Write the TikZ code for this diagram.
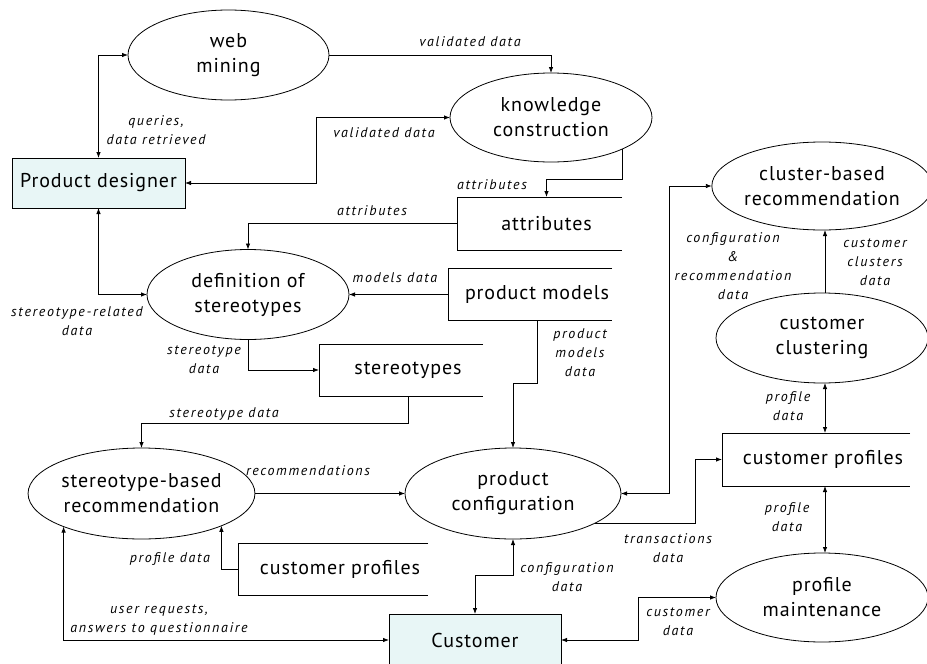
\documentclass[tikz,border=0pt]{standalone}
\usepackage{fontspec}
\setmainfont[LetterSpace=4.5]{PT Sans}
\newfontfamily\lblfont[LetterSpace=12]{PT Sans}
\usetikzlibrary{shapes.geometric,arrows.meta,calc}
\definecolor{extfill}{RGB}{232,246,246}
\newcommand\dfstore[1]{\draw ([xshift=-14pt]#1.north east) -- (#1.north west) -- (#1.south west) -- ([xshift=-14pt]#1.south east);}
\begin{document}
\begin{tikzpicture}[x=1pt,y=-1pt,line width=0.8pt,
  mainfont/.style={font=\fontsize{20}{25}\selectfont},
  proc/.style={ellipse,draw,inner sep=0pt,outer sep=0pt,align=center,mainfont},
  storenode/.style={rectangle,inner sep=0pt,outer sep=0pt,align=center,mainfont},
  extent/.style={rectangle,draw,fill=extfill,inner sep=0pt,outer sep=0pt,mainfont},
  lbl/.style={font=\lblfont\fontsize{14}{19}\selectfont\itshape,align=center,inner sep=0pt},
  flow/.style={-{Latex[length=6pt,width=4.5pt]}},
  dflow/.style={{Latex[length=6pt,width=4.5pt]}-{Latex[length=6pt,width=4.5pt]}}]
\clip (0,0) rectangle (927,664);
\fill[white] (0,0) rectangle (927,664);
% processes
\node[proc,minimum width=201pt,minimum height=90pt] (web) at (228.5,55) {web\\mining};
\node[proc,minimum width=202pt,minimum height=89pt] (kc) at (551,117.5) {knowledge\\construction};
\node[proc,minimum width=202pt,minimum height=90pt] (def) at (248,294.5) {definition of\\stereotypes};
\node[proc,minimum width=217pt,minimum height=91pt] (sbr) at (141.5,493.5) {stereotype-based\\recommendation};
\node[proc,minimum width=216pt,minimum height=91pt] (pc) at (513,493.5) {product\\configuration};
\node[proc,minimum width=212pt,minimum height=88pt] (cbr) at (822,186) {cluster-based\\recommendation};
\node[proc,minimum width=212pt,minimum height=90pt] (cc) at (822,338) {customer\\clustering};
\node[proc,minimum width=212pt,minimum height=89pt] (pmaint) at (822,597.5) {profile\\maintenance};
% external entities
\node[extent,minimum width=173pt,minimum height=50pt] (pd) at (98.5,183) {Product designer};
\node[extent,minimum width=172pt,minimum height=52pt] (cust) at (475,640) {Customer};
% data stores
\node[storenode,minimum width=179pt,minimum height=53pt] (attr) at (546.5,223.5) {attributes};
\node[storenode,minimum width=178pt,minimum height=52pt] (pm) at (537,294.5) {product models};
\node[storenode,minimum width=178pt,minimum height=52pt] (stereo) at (408,370) {stereotypes};
\node[storenode,minimum width=204pt,minimum height=52pt] (cp1) at (340,569) {customer profiles};
\node[storenode,minimum width=202pt,minimum height=53pt] (cp2) at (823,459.5) {customer profiles};
\dfstore{attr}
\dfstore{pm}
\dfstore{stereo}
\dfstore{cp1}
\dfstore{cp2}
% flows
\draw[dflow] (web.west) -| (pd.north);
\draw[flow] (web.east) -| (kc.north);
\draw[dflow] (pd.east) -- ++(131,0) |- (kc.west);
\draw[flow] (kc.-24.1) |- ($(attr.north)+(0,-18)$) -- (attr.north);
\draw[flow] (attr.west) -| (def.north);
\draw[dflow] (pd.south) |- (def.west);
\draw[flow] (pm.west) -- (def.east);
\draw[flow] (pm.south) -- ++(0,63) -| (pc.north);
\draw[flow] (def.south) |- (stereo.west);
\draw[flow] (stereo.south) -- ++(0,27) -| (sbr.north);
\draw[flow] (sbr.east) -- (pc.west);
\draw[flow] (cp1.west) -| (sbr.-22.9);
\draw[dflow] (cust.west) -| (sbr.-157.1);
\draw[dflow] (cust.north) -- ++(0,-39) -| (pc.south);
\draw[dflow] (pc.east) -- ++(48,0) |- (cbr.west);
\draw[flow] ([xshift=3pt]cc.north) -- ([xshift=3pt]cbr.south);
\draw[dflow] ([xshift=3pt]cc.south) -- ([xshift=3pt]cc.south |- cp2.north);
\draw[flow] (pc.-20.8) -- ++(101,0) |- (cp2.west);
\draw[dflow] ([xshift=3pt]pmaint.north |- cp2.south) -- ([xshift=3pt]pmaint.north);
\draw[dflow] (cust.east) -- ++(77,0) |- (pmaint.west);
% labels
\node[lbl] (l1) at (470,42) {validated data};
\node[lbl] (l2) at (156,130) {queries,\\data retrieved};
\node[lbl] (l3) at (384,133) {validated data};
\node[lbl] (l4) at (492,185) {attributes};
\node[lbl] (l5) at (372,211) {attributes};
\node[lbl] (l6) at (395,278) {models data};
\node[lbl] (l7) at (77,321) {stereotype-related\\data};
\node[lbl] (l8) at (204,360) {stereotype\\data};
\node[lbl] (l9) at (580,353) {product\\models\\data};
\node[lbl] (l10) at (224,414) {stereotype data};
\node[lbl] (l11) at (308,471) {recommendations};
\node[lbl] (l12) at (170,559) {profile data};
\node[lbl] (l13) at (159,620) {user requests,\\answers to questionnaire};
\node[lbl] (l14) at (567,577) {configuration\\data};
\node[lbl] (l15) at (733,266) {configuration\\\&\\recommendation\\data};
\node[lbl] (l16) at (875,262) {customer\\clusters\\data};
\node[lbl] (l17) at (788,406) {profile\\data};
\node[lbl] (l18) at (668,548) {transactions\\data};
\node[lbl] (l19) at (787,517) {profile\\data};
\node[lbl] (l20) at (678,622) {customer\\data};
\end{tikzpicture}
\end{document}
